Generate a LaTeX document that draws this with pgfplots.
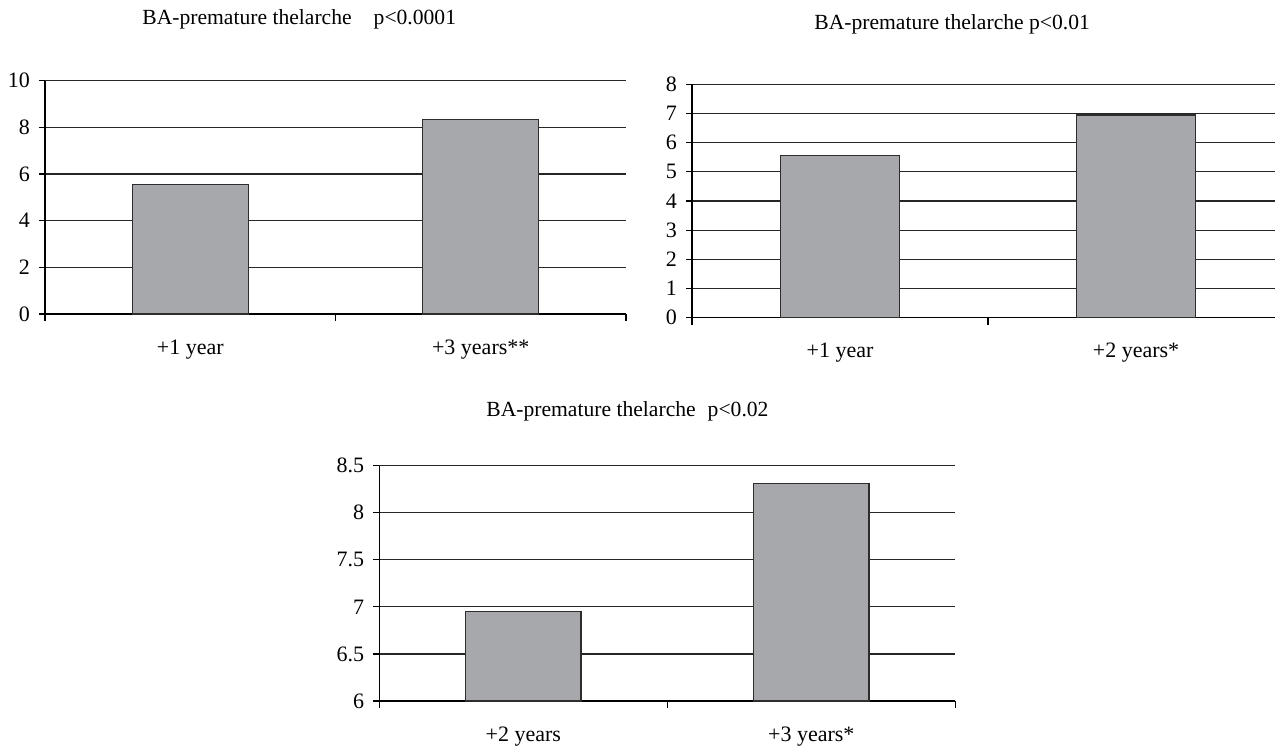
\documentclass[border=0pt]{standalone}
\usepackage{pgfplots}
\pgfplotsset{compat=1.18}
\usepackage{fontspec}
\setmainfont{Liberation Serif}
\definecolor{barfill}{RGB}{167,168,172}
\definecolor{baredge}{RGB}{45,45,45}
\pgfplotsset{
  mybar/.style={
    scale only axis,
    anchor=south west,
    axis lines*=left,
    xmin=0.5, xmax=2.5,
    xtick={1,2},
    minor xtick={0.5,1.5,2.5},
    major x tick style={draw=none},
    tick align=outside,
    major tick length=3pt,
    minor tick length=3.5pt,
    ymajorgrids,
    major grid style={black!85, line width=0.6pt},
    axis line style={black, line width=0.6pt},
    tick style={black, line width=0.6pt},
    ybar, bar width=0.4, bar shift=0pt,
    ticklabel style={font=\fontsize{11}{13}\selectfont},
    /pgf/number format/assume math mode=true,
    xticklabel style={anchor=base, yshift=-17pt},
    yticklabel style={xshift=-1pt},
  },
  mybarplot/.style={fill=barfill, draw=baredge, line width=0.6pt},
}
\begin{document}
\begin{tikzpicture}
\path[use as bounding box] (0pt,0pt) rectangle (637.5pt,-372.5pt);
\node[anchor=base west, font=\fontsize{10.8}{13}\selectfont, inner sep=0pt] at (71pt,-12pt) {BA-premature thelarche\hspace{11pt}p<0.0001};
\node[anchor=base west, font=\fontsize{10.8}{13}\selectfont, inner sep=0pt] at (407pt,-14.5pt) {BA-premature thelarche p<0.01};
\node[anchor=base west, font=\fontsize{10.8}{13}\selectfont, inner sep=0pt] at (243pt,-208pt) {BA-premature thelarche\hspace{6pt}p<0.02};

\begin{axis}[mybar, at={(22.5pt,-157pt)}, width=290.5pt, height=116.65pt,
  ymin=0, ymax=10, ytick={0,2,4,6,8,10},
  xticklabels={+1 year, +3 years**}]
\addplot[mybarplot] coordinates {(1,5.56) (2,8.35)};
\end{axis}

\begin{axis}[mybar, at={(346pt,-158.85pt)}, width=296pt, height=116.7pt,
  ymin=0, ymax=8, ytick={0,1,2,3,4,5,6,7,8},
  xticklabels={+1 year, +2 years*}]
\addplot[mybarplot] coordinates {(1,5.55) (2,6.95)};
\end{axis}

\begin{axis}[mybar, at={(189.65pt,-350.5pt)}, width=288pt, height=117.65pt,
  ymin=6, ymax=8.5, ytick={6,6.5,7,7.5,8,8.5},
  xticklabels={+2 years, +3 years*}]
\addplot[mybarplot] coordinates {(1,6.95) (2,8.31)};
\end{axis}
\end{tikzpicture}
\end{document}
